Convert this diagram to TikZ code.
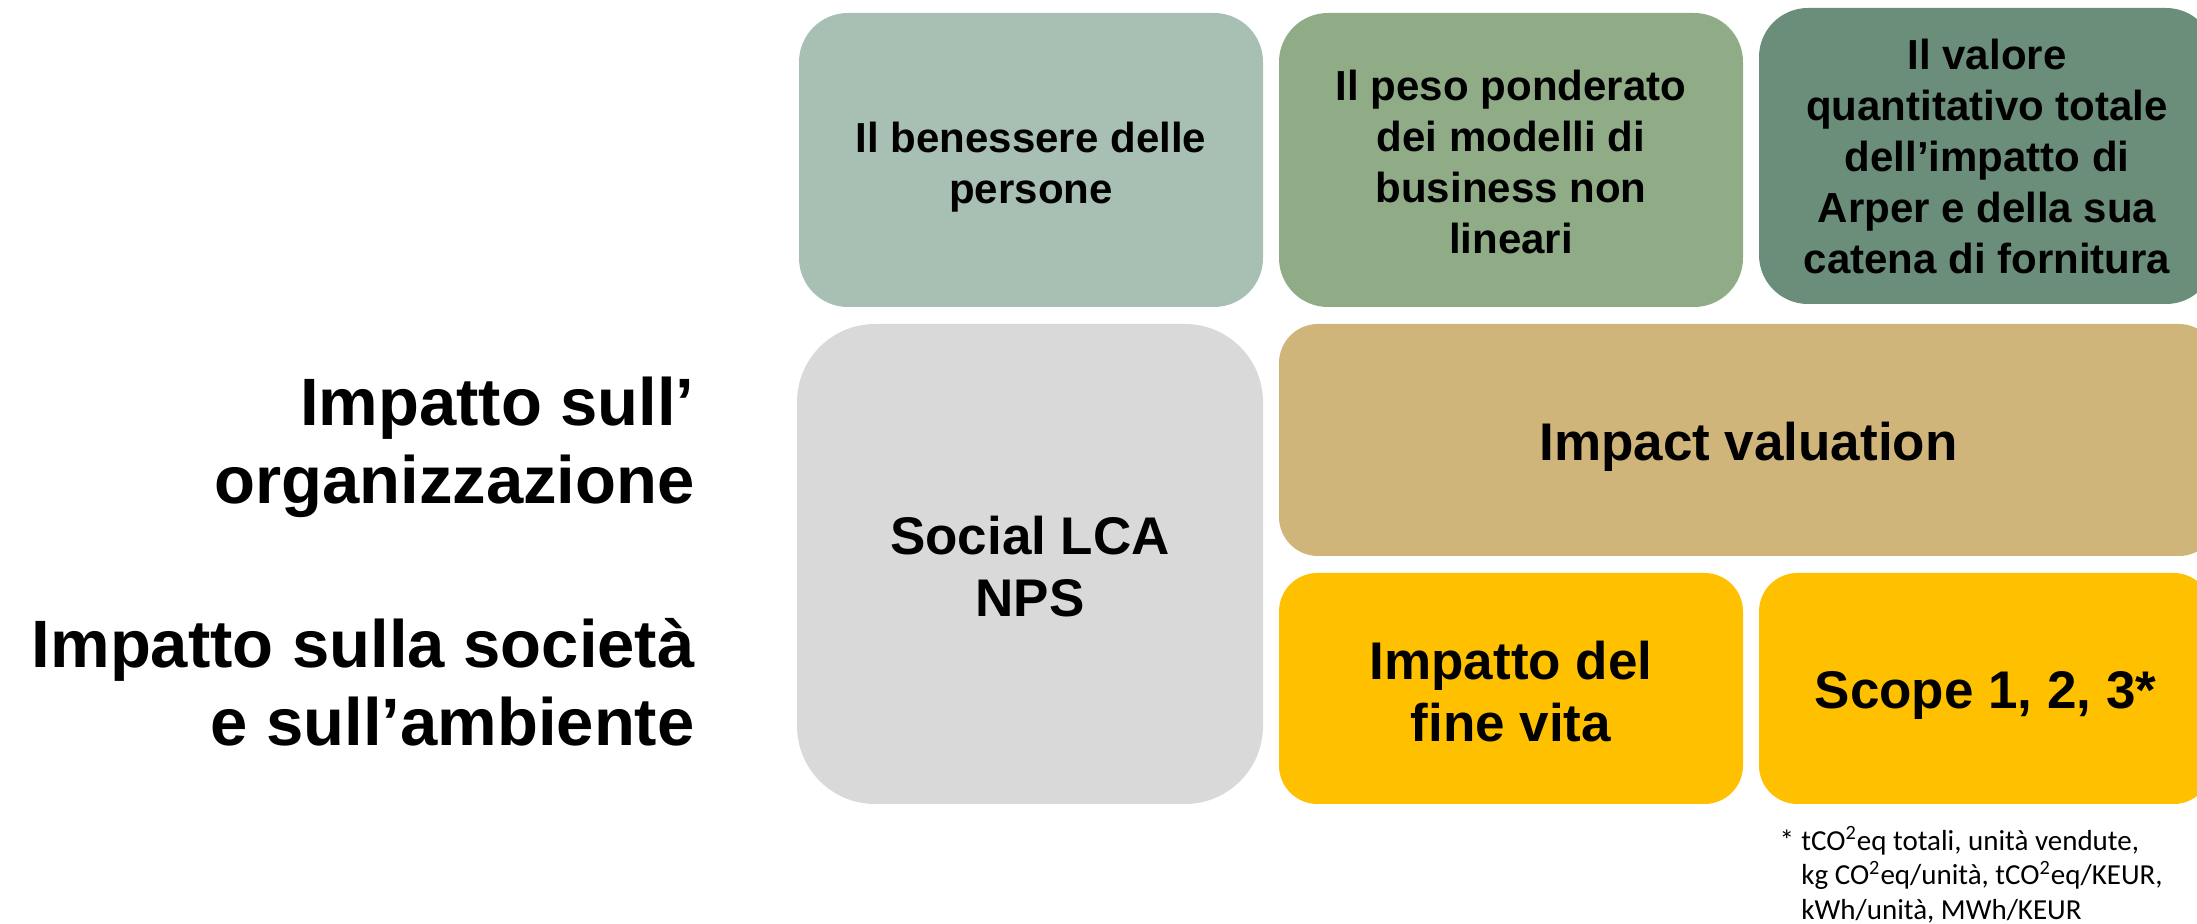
\documentclass[tikz,border=0pt]{standalone}
\usepackage{fontspec}
\setmainfont{Liberation Sans}
\newfontfamily\notefont{Carlito}
\usetikzlibrary{positioning}

\definecolor{sagecol}{HTML}{A8BFB3}
\definecolor{mosscol}{HTML}{8FAC87}
\definecolor{pinecol}{HTML}{6A8E79}
\definecolor{sandcol}{HTML}{D0B57B}
\definecolor{greycol}{HTML}{D9D9D9}
\definecolor{ambercol}{HTML}{FFC000}

\tikzset{
  tile/.style={rectangle, inner sep=0pt},
  tiletext/.style={inner sep=0pt, align=center,
    font=\bfseries\fontsize{21}{25.5}\selectfont},
  bigtext/.style={tiletext, font=\bfseries\fontsize{26.5}{31}\selectfont},
  sidelabel/.style={anchor=base east, align=right, inner sep=0pt,
    font=\bfseries\fontsize{33.5}{39}\selectfont},
}

\begin{document}
\begin{tikzpicture}[x=0.5pt,y=-0.5pt]
  \useasboundingbox (0,0) rectangle (2197,924);
  \clip (0,0) rectangle (2197,924);
  %%
  % Node: top row
  \node[tile, fill=sagecol, rounded corners=24.5pt, minimum width=232pt, minimum height=147pt]
    (benessere) at (1031,160) {};
  \node[tile, fill=mosscol, rounded corners=24.5pt, minimum width=232pt, minimum height=147pt]
    (peso) at (1511,160) {};
  \node[tile, fill=pinecol, rounded corners=24.5pt, minimum width=228pt, minimum height=148pt]
    (valore) at (1987,156) {};
  % Node: social lca
  \node[tile, fill=greycol, rounded corners=39pt, minimum width=233pt, minimum height=240pt]
    (social) at (1030,564) {};
  % Node: impact valuation
  \node[tile, fill=sandcol, rounded corners=19.5pt, minimum width=469.5pt, minimum height=116pt]
    (valuation) at (1748.5,440) {};
  % Node: bottom row
  \node[tile, fill=ambercol, rounded corners=19.25pt, minimum width=232pt, minimum height=115.5pt]
    (finevita) at (1511,688.5) {};
  \node[tile, fill=ambercol, rounded corners=19.25pt, minimum width=226.5pt, minimum height=115.5pt]
    (scope) at (1985.5,688.5) {};
  %
  % Node: tile texts
  \node[tiletext] (benessere-t) at ([yshift=-3.5pt]benessere.center) {Il benessere delle\\persone};
  \node[tiletext] (peso-t) at ([yshift=-1pt]peso.center) {Il peso ponderato\\dei modelli di\\business non\\lineari};
  \node[tiletext] (valore-t) at (valore.center) {Il valore\\quantitativo totale\\dell’impatto di\\Arper e della sua\\catena di fornitura};
  \node[bigtext] (social-t) at ([yshift=-1.5pt]social.center) {Social LCA\\NPS};
  \node[bigtext] (valuation-t) at ([yshift=-3.5pt]valuation.center) {Impact valuation};
  \node[bigtext] (finevita-t) at ([yshift=-1.5pt]finevita.center) {Impatto del\\fine vita};
  \node[bigtext] (scope-t) at ([yshift=-3.5pt]scope.center) {Scope 1, 2, 3*};
  %
  % Node: side labels
  \node[sidelabel] (organizzazione) at (695,504) {Impatto sull’\\organizzazione};
  \node[sidelabel] (societa) at (695,746) {Impatto sulla società\\e sull’ambiente};
  % Node: footnote
  \node[anchor=base west, align=left, inner sep=0pt, font=\notefont\fontsize{14.5}{17.5}\selectfont]
    (nota) at (1801,920) {\llap{*\hspace{0.25em}}tCO\textsuperscript{2}eq totali, unità vendute,\\
      kg CO\textsuperscript{2}eq/unità, tCO\textsuperscript{2}eq/KEUR,\\
      kWh/unità, MWh/KEUR};
  %
\end{tikzpicture}
\end{document}
